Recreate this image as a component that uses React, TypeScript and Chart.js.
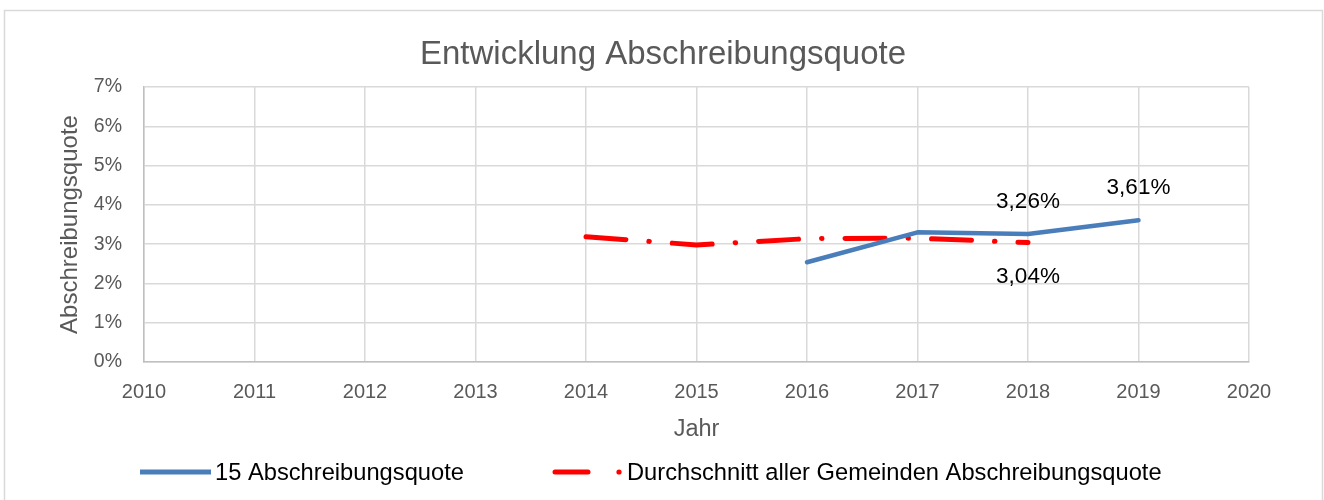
import React, { useEffect, useRef } from "react";
import { Chart, registerables } from "chart.js";

Chart.register(...registerables);

const titleText = "Entwicklung Abschreibungsquote";
const xAxisTitle = "Jahr";
const yAxisTitle = "Abschreibungsquote";
const years = [2014, 2015, 2016, 2017, 2018, 2019];
const seriesNames = ["15 Abschreibungsquote", "Durchschnitt aller Gemeinden Abschreibungsquote"];
const gemeindeQuote: (number | null)[] = [null, null, 2.54, 3.3, 3.26, 3.61];
const durchschnittQuote: (number | null)[] = [3.19, 2.98, 3.14, 3.15, 3.04, null];
const xMin = 2010;
const xMax = 2020;
const yMin = 0;
const yMax = 7;
// data labels: [datasetIndex, pointIndex, above?]
const labelledPoints: [number, number, boolean][] = [
  [0, 4, true],
  [0, 5, true],
  [1, 4, false],
];

const FONT = "'Liberation Sans', Arial, sans-serif";
const GRAY = "#595959";

const fmt = (v: number) => v.toFixed(2).replace(".", ",") + "%";

export default function App() {
  const ref = useRef<HTMLCanvasElement | null>(null);
  useEffect(() => {
    if (!ref.current) return;
    const toPts = (arr: (number | null)[]) =>
      years.map((yr, i) => ({ x: yr, y: arr[i] as any }));

    const deco = {
      id: "deco",
      beforeDraw(chart: any) {
        const ctx = chart.ctx;
        ctx.save();
        ctx.fillStyle = "#ffffff";
        ctx.fillRect(0, 0, chart.width, chart.height);
        ctx.strokeStyle = "#d9d9d9";
        ctx.lineWidth = 1.5;
        ctx.strokeRect(4.5, 10.5, 1318, 520);
        ctx.restore();
      },
      afterDraw(chart: any) {
        const ctx = chart.ctx;
        const area = chart.chartArea;
        ctx.save();
        // title
        ctx.fillStyle = GRAY;
        ctx.textAlign = "center";
        ctx.textBaseline = "middle";
        ctx.font = `33px ${FONT}`;
        ctx.fillText(titleText, 663, 55);
        // axis titles
        ctx.font = `23.5px ${FONT}`;
        ctx.fillText(xAxisTitle, (area.left + area.right) / 2, 430);
        ctx.save();
        ctx.translate(70, (area.top + area.bottom) / 2);
        ctx.rotate(-Math.PI / 2);
        ctx.font = `24px ${FONT}`;
        ctx.fillText(yAxisTitle, 0, 0);
        ctx.restore();
        // data labels
        ctx.fillStyle = "#000000";
        ctx.font = `22.5px ${FONT}`;
        for (const [di, pi, above] of labelledPoints) {
          const el = chart.getDatasetMeta(di).data[pi];
          const v = chart.data.datasets[di].data[pi].y;
          ctx.fillText(fmt(v), el.x, el.y + (above ? -32 : 34));
        }
        // legend
        const ds0 = chart.data.datasets[0];
        const ds1 = chart.data.datasets[1];
        const ly = 472;
        ctx.lineCap = "butt";
        ctx.strokeStyle = ds0.borderColor;
        ctx.lineWidth = 5;
        ctx.beginPath();
        ctx.moveTo(140, ly);
        ctx.lineTo(211, ly);
        ctx.stroke();
        ctx.strokeStyle = ds1.borderColor;
        ctx.lineCap = "round";
        ctx.beginPath();
        ctx.moveTo(555, ly);
        ctx.lineTo(588, ly);
        ctx.stroke();
        ctx.fillStyle = ds1.borderColor;
        ctx.beginPath();
        ctx.arc(619, ly, 2.6, 0, Math.PI * 2);
        ctx.fill();
        ctx.fillStyle = "#000000";
        ctx.textAlign = "left";
        ctx.font = `23.7px ${FONT}`;
        ctx.fillText(seriesNames[0], 215, ly + 1);
        ctx.fillText(seriesNames[1], 627, ly + 1);
        ctx.restore();
      },
    };

    const chart = new Chart(ref.current, {
      type: "line",
      data: {
        datasets: [
          {
            label: seriesNames[0],
            data: toPts(gemeindeQuote),
            borderColor: "#4a7ebb",
            borderWidth: 4.5,
            pointRadius: 0,
            borderCapStyle: "round",
            borderJoinStyle: "round",
            tension: 0,
            fill: false,
          },
          {
            label: seriesNames[1],
            data: toPts(durchschnittQuote),
            borderColor: "#ff0000",
            borderWidth: 5,
            pointRadius: 0,
            borderCapStyle: "round",
            borderJoinStyle: "round",
            borderDash: [40, 23, 0.5, 23],
            tension: 0,
            fill: false,
          },
        ],
      },
      options: {
        responsive: false,
        animation: false,
        layout: { padding: { top: 87, right: 75, left: 0, bottom: 0 } },
        plugins: {
          legend: { display: false },
          title: { display: false },
          tooltip: { enabled: false },
        },
        scales: {
          x: {
            type: "linear",
            min: xMin,
            max: xMax,
            afterFit: (s: any) => {
              s.height = 138;
            },
            ticks: {
              stepSize: 1,
              padding: 18,
              color: GRAY,
              font: { family: FONT, size: 20 },
              callback: (v: any) => String(v),
              maxRotation: 0,
            },
            grid: { color: "#d9d9d9", lineWidth: 1.5, drawTicks: false },
            border: { color: "#bfbfbf", width: 1.5 },
          },
          y: {
            min: yMin,
            max: yMax,
            afterFit: (s: any) => {
              s.width = 144;
            },
            ticks: {
              stepSize: 1,
              padding: 22,
              color: GRAY,
              font: { family: FONT, size: 19.5 },
              callback: (v: any) => v + "%",
            },
            grid: { color: "#d9d9d9", lineWidth: 1.5, drawTicks: false },
            border: { color: "#bfbfbf", width: 1.5 },
          },
        },
      },
      plugins: [deco],
    } as any);
    return () => chart.destroy();
  }, []);

  return (
    <div style={{ position: "absolute", left: 0, top: 0, width: 1324, height: 500 }}>
      <canvas ref={ref} width={1324} height={500} style={{ width: 1324, height: 500, display: "block" }} />
    </div>
  );
}
